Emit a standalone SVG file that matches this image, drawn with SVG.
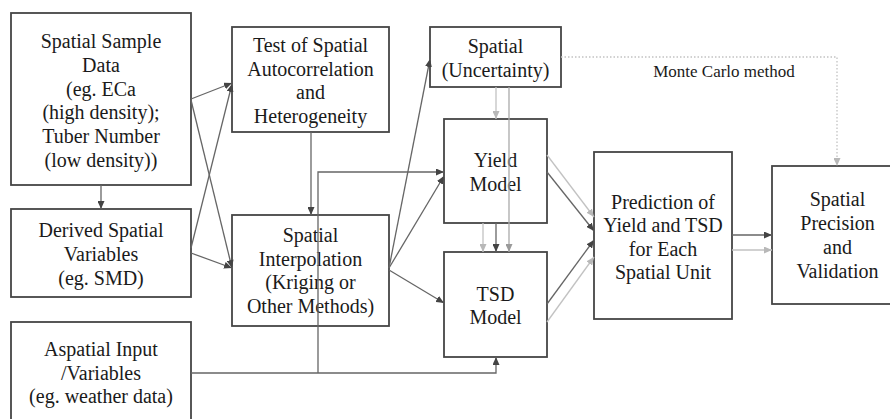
<svg xmlns="http://www.w3.org/2000/svg" width="890" height="419" viewBox="0 0 890 419">
  <defs>
    <style>
      .box { fill: #ffffff; stroke: #454545; stroke-width: 1.8; }
      .lbl { font-family: "Liberation Serif", "Times New Roman", serif; font-size: 20px; fill: #1a1a1a; text-anchor: middle; }
      .note { font-family: "Liberation Serif", "Times New Roman", serif; font-size: 17px; fill: #1a1a1a; text-anchor: middle; }
      .dk { fill: none; stroke: #666666; stroke-width: 1.3; marker-end: url(#arrDk); }
      .lt { fill: none; stroke: #c2c2c2; stroke-width: 1.3; marker-end: url(#arrLt); }
      .md { fill: none; stroke: #aaaaaa; stroke-width: 1.3; marker-end: url(#arrMd); }
      .dot { fill: none; stroke: #c2c2c2; stroke-width: 1.3; stroke-dasharray: 1.5 2; marker-end: url(#arrLt); }
    </style>
    <marker id="arrDk" markerUnits="userSpaceOnUse" markerWidth="8" markerHeight="7" refX="8" refY="3.5" orient="auto">
      <path d="M0,0 L8,3.5 L0,7 z" fill="#444444"/>
    </marker>
    <marker id="arrLt" markerUnits="userSpaceOnUse" markerWidth="8" markerHeight="7" refX="8" refY="3.5" orient="auto">
      <path d="M0,0 L8,3.5 L0,7 z" fill="#b8b8b8"/>
    </marker>
    <marker id="arrMd" markerUnits="userSpaceOnUse" markerWidth="8" markerHeight="7" refX="8" refY="3.5" orient="auto">
      <path d="M0,0 L8,3.5 L0,7 z" fill="#9a9a9a"/>
    </marker>
  </defs>

  <rect width="890" height="419" fill="#ffffff"/>

  <!-- nodes -->
  <g id="sample-data">
    <rect class="box" x="11" y="13" width="180" height="172"/>
    <text class="lbl" x="101" y="48">Spatial Sample</text>
    <text class="lbl" x="101" y="71.8">Data</text>
    <text class="lbl" x="101" y="95.6">(eg. ECa</text>
    <text class="lbl" x="101" y="119.4">(high density);</text>
    <text class="lbl" x="101" y="143.2">Tuber Number</text>
    <text class="lbl" x="101" y="167">(low density))</text>
  </g>

  <g id="derived-variables">
    <rect class="box" x="11" y="209" width="180" height="88"/>
    <text class="lbl" x="101" y="237">Derived Spatial</text>
    <text class="lbl" x="101" y="261">Variables</text>
    <text class="lbl" x="101" y="285">(eg. SMD)</text>
  </g>

  <g id="aspatial-input">
    <rect class="box" x="11" y="322" width="180" height="110"/>
    <text class="lbl" x="101" y="356">Aspatial Input</text>
    <text class="lbl" x="101" y="380">/Variables</text>
    <text class="lbl" x="101" y="403">(eg. weather data)</text>
  </g>

  <g id="autocorrelation-test">
    <rect class="box" x="232" y="27" width="157" height="105"/>
    <text class="lbl" x="310.5" y="52">Test of Spatial</text>
    <text class="lbl" x="310.5" y="75.5">Autocorrelation</text>
    <text class="lbl" x="310.5" y="99">and</text>
    <text class="lbl" x="310.5" y="122.5">Heterogeneity</text>
  </g>

  <g id="spatial-interpolation">
    <rect class="box" x="232" y="215" width="157" height="111"/>
    <text class="lbl" x="310.5" y="242">Spatial</text>
    <text class="lbl" x="310.5" y="265.5">Interpolation</text>
    <text class="lbl" x="310.5" y="289">(Kriging or</text>
    <text class="lbl" x="310.5" y="313">Other Methods)</text>
  </g>

  <g id="uncertainty">
    <rect class="box" x="430" y="27" width="131" height="60"/>
    <text class="lbl" x="495.5" y="53">Spatial</text>
    <text class="lbl" x="495.5" y="76.5">(Uncertainty)</text>
  </g>

  <g id="yield-model">
    <rect class="box" x="444" y="119" width="103" height="104"/>
    <text class="lbl" x="495.5" y="167">Yield</text>
    <text class="lbl" x="495.5" y="190.5">Model</text>
  </g>

  <g id="tsd-model">
    <rect class="box" x="444" y="252" width="103" height="105"/>
    <text class="lbl" x="495.5" y="300.5">TSD</text>
    <text class="lbl" x="495.5" y="324">Model</text>
  </g>

  <g id="prediction">
    <rect class="box" x="594" y="152" width="138" height="167"/>
    <text class="lbl" x="663" y="208.5">Prediction of</text>
    <text class="lbl" x="663" y="232">Yield and TSD</text>
    <text class="lbl" x="663" y="255.5">for Each</text>
    <text class="lbl" x="663" y="279">Spatial Unit</text>
  </g>

  <g id="precision-validation">
    <rect class="box" x="772" y="166" width="124" height="138"/>
    <text class="lbl" x="837.5" y="206">Spatial</text>
    <text class="lbl" x="837.5" y="230">Precision</text>
    <text class="lbl" x="837.5" y="253.5">and</text>
    <text class="lbl" x="837.5" y="277.5">Validation</text>
  </g>

  <!-- connectors -->
  <g id="connectors">
    <!-- inputs to the test and interpolation steps -->
    <line class="dk" x1="101" y1="185" x2="101" y2="209"/>
    <line class="dk" x1="191" y1="99" x2="232" y2="83"/>
    <line class="dk" x1="191" y1="100" x2="232" y2="268"/>
    <line class="dk" x1="191" y1="248" x2="232" y2="84"/>
    <line class="dk" x1="191" y1="253" x2="232" y2="268"/>
    <line class="dk" x1="311" y1="132" x2="311" y2="215"/>

    <!-- interpolation outputs -->
    <line class="dk" x1="389" y1="268" x2="430" y2="59"/>
    <line class="dk" x1="389" y1="268" x2="444" y2="176"/>
    <line class="dk" x1="389" y1="270" x2="444" y2="303"/>

    <!-- aspatial inputs to both models -->
    <polyline class="dk" points="191,373 496,373 496,357"/>
    <polyline class="dk" points="318,373 318,172 444,172"/>

    <!-- uncertainty feeds -->
    <line class="lt" x1="496" y1="87" x2="496" y2="119"/>
    <line class="md" x1="509" y1="87" x2="509" y2="252"/>
    <line class="lt" x1="483" y1="223" x2="483" y2="252"/>
    <line class="dk" x1="496" y1="223" x2="496" y2="252"/>

    <!-- models to prediction -->
    <line class="lt" x1="547" y1="155" x2="594" y2="217"/>
    <line class="dk" x1="547" y1="172" x2="594" y2="231"/>
    <line class="dk" x1="547" y1="304" x2="594" y2="240"/>
    <line class="lt" x1="547" y1="322" x2="594" y2="257"/>

    <!-- prediction to precision -->
    <line class="dk" x1="732" y1="235" x2="772" y2="235"/>
    <line class="lt" x1="732" y1="250" x2="772" y2="250"/>

    <!-- Monte Carlo path -->
    <polyline class="dot" points="561,57 837,57 837,166"/>
    <text class="note" x="724" y="77">Monte Carlo method</text>
  </g>
</svg>
